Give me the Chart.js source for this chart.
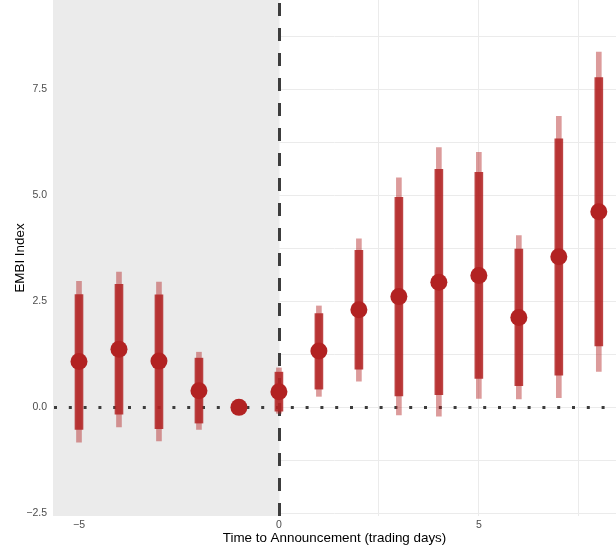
<!DOCTYPE html>
<html>
<head>
<meta charset="utf-8">
<script src="https://cdn.jsdelivr.net/npm/chart.js@4"></script>
<style>
  body { margin: 0; background: #fff; }
  #wrap { width: 616px; height: 550px; }
</style>
</head>
<body>
<div id="wrap"><canvas id="plot" width="616" height="550"></canvas></div>
<script>
// days relative to announcement
const days = [-5, -4, -3, -2, -1, 0, 1, 2, 3, 4, 5, 6, 7, 8];
const estimate = [1.08, 1.37, 1.09, 0.39, 0.0, 0.37, 1.33, 2.30, 2.61, 2.95, 3.11, 2.12, 3.55, 4.61];
// inner (thick) interval
const innerLow  = [-0.52, -0.16, -0.50, -0.37, null, -0.09, 0.43, 0.90, 0.27, 0.30, 0.68, 0.51, 0.76, 1.45];
const innerHigh = [2.66, 2.90, 2.65, 1.16, null, 0.83, 2.21, 3.70, 4.95, 5.61, 5.54, 3.73, 6.33, 7.77];
// outer (thin) interval
const outerLow  = [-0.82, -0.46, -0.79, -0.52, null, -0.14, 0.26, 0.62, -0.18, -0.21, 0.21, 0.20, 0.23, 0.85];
const outerHigh = [2.97, 3.19, 2.95, 1.30, null, 0.93, 2.39, 3.97, 5.41, 6.12, 6.01, 4.05, 6.86, 8.37];

const xTicks = [-5, -2.5, 0, 2.5, 5, 7.5];
const xTickLabels = { '-5': '\u22125', '0': '0', '5': '5' };
const yTicks = [-2.5, -1.25, 0, 1.25, 2.5, 3.75, 5, 6.25, 7.5, 8.75];
const yTickLabels = { '-2.5': '\u22122.5', '0': '0.0', '2.5': '2.5', '5': '5.0', '7.5': '7.5' };

const red = '#B22222';
const font = 'Liberation Sans, Arial, sans-serif';

function interval(lo, hi) {
    return days.map((d, i) => lo[i] === null ? { x: d, y: null } : { x: d, y: [lo[i], hi[i]] });
}

// grey pre-announcement panel plus the reference lines
const refLayer = {
    id: 'refLayer',
    beforeDatasetsDraw(chart) {
        const a = chart.chartArea;
        const xs = chart.scales.x, ys = chart.scales.y;
        const x0 = Math.round(xs.getPixelForValue(0)) + 0.5;
        const y0 = Math.round(ys.getPixelForValue(0)) + 0.5;
        const ctx = chart.ctx;
        ctx.save();
        ctx.fillStyle = '#EBEBEB';
        ctx.fillRect(a.left, a.top, x0 - a.left, a.bottom - a.top);

        ctx.strokeStyle = '#3C3C3C';
        ctx.lineWidth = 3;
        ctx.setLineDash([3, 11.8]);
        ctx.beginPath();
        ctx.moveTo(a.left + 1, y0);
        ctx.lineTo(a.right, y0);
        ctx.stroke();

        ctx.setLineDash([13, 12]);
        ctx.beginPath();
        ctx.moveTo(x0, a.bottom);
        ctx.lineTo(x0, a.top);
        ctx.stroke();
        ctx.restore();
    }
};

new Chart(document.getElementById('plot').getContext('2d'), {
    type: 'bar',
    data: {
        datasets: [
            {
                type: 'scatter',
                data: days.map((d, i) => ({ x: d, y: estimate[i] })),
                backgroundColor: red,
                borderWidth: 0,
                pointRadius: 8.5,
                pointHoverRadius: 8.5,
                order: 0
            },
            {
                data: interval(innerLow, innerHigh),
                backgroundColor: 'rgba(178,34,34,0.85)',
                barThickness: 8,
                grouped: false,
                borderSkipped: false,
                order: 1
            },
            {
                data: interval(outerLow, outerHigh),
                backgroundColor: 'rgba(178,34,34,0.45)',
                barThickness: 5,
                grouped: false,
                borderSkipped: false,
                order: 2
            }
        ]
    },
    options: {
        responsive: false,
        animation: false,
        layout: { padding: 0, autoPadding: false },
        plugins: { legend: { display: false }, tooltip: { enabled: false } },
        scales: {
            x: {
                type: 'linear',
                offset: false,
                min: -5.65,
                max: 8.43,
                afterBuildTicks: s => { s.ticks = xTicks.map(v => ({ value: v })); },
                afterFit: s => { s.height = 34; s.paddingLeft = 0; s.paddingRight = 0; },
                grid: { color: '#EBEBEB', lineWidth: 1, drawTicks: false, offset: false },
                border: { display: false },
                ticks: {
                    padding: 3,
                    color: '#4D4D4D',
                    font: { family: font, size: 10.5 },
                    maxRotation: 0,
                    autoSkip: false,
                    callback: v => xTickLabels[String(v)] || ''
                },
                title: {
                    display: true,
                    text: 'Time to Announcement (trading days)',
                    color: '#000',
                    font: { family: font, size: 13.4 },
                    padding: { top: 0, bottom: 4 }
                }
            },
            y: {
                type: 'linear',
                min: -2.56,
                max: 9.6,
                afterBuildTicks: s => { s.ticks = yTicks.map(v => ({ value: v })); },
                afterFit: s => { s.width = 53; s.paddingTop = 0; s.paddingBottom = 0; },
                grid: { color: '#EBEBEB', lineWidth: 1, drawTicks: false },
                border: { display: false },
                ticks: {
                    padding: 6,
                    color: '#4D4D4D',
                    font: { family: font, size: 10.5 },
                    autoSkip: false,
                    callback: v => yTickLabels[String(v)] || ''
                },
                title: {
                    display: true,
                    text: 'EMBI Index',
                    color: '#000',
                    font: { family: font, size: 13.4 },
                    padding: { top: 12, bottom: 0 }
                }
            }
        }
    },
    plugins: [refLayer]
});
</script>
</body>
</html>
